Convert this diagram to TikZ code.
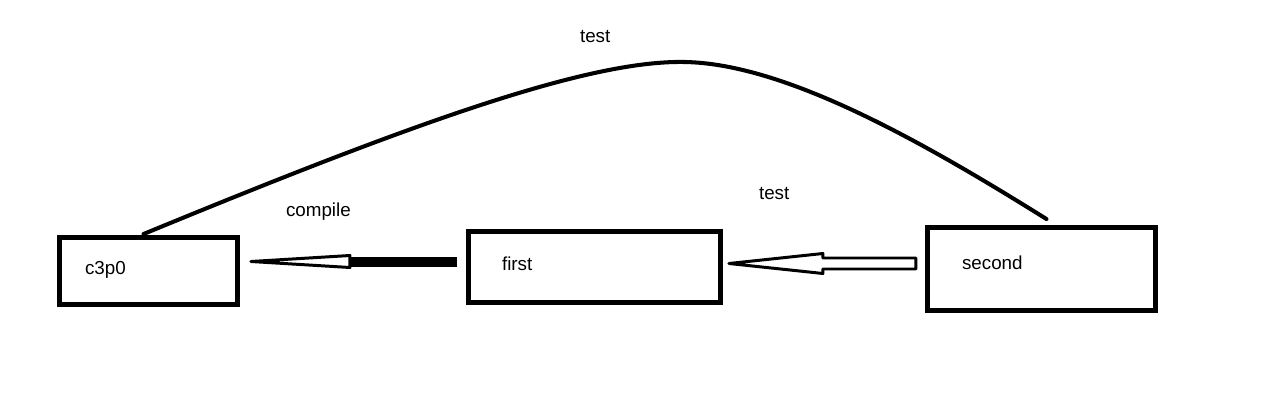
\documentclass[tikz,border=0pt]{standalone}
\usepackage{fontspec}
\setmainfont{Liberation Sans}
\usetikzlibrary{calc, positioning}

\begin{document}
\begin{tikzpicture} [x = 0.02cm, y = -0.02cm, line width = 2.3pt,
  box/.style = {draw, rectangle, inner sep = 0pt, line width = 2.8pt},
  lbl/.style = {anchor = base west, inner sep = 0pt, font = \fontsize{10.7}{12}\selectfont},
  hollow/.style = {line width = 1.7pt, line join = round, fill = white}]

\useasboundingbox (0,0) rectangle (1283,412);

\node [box, minimum width = 3.56cm, minimum height = 1.34cm] (c3p0) at (148.5,271) {};
\node [box, minimum width = 5.04cm, minimum height = 1.42cm] (first) at (594.5,267) {};
\node [box, minimum width = 4.56cm, minimum height = 1.66cm] (second) at (1041.5,269) {};

\node [lbl] (c3p0txt) at (83,274) {c3p0};
\node [lbl] (firsttxt) at (500,270) {first};
\node [lbl] (secondtxt) at (960,269) {second};

\node [lbl] (compile) at (284,216) {compile};
\node [lbl] (testmid) at (757,199) {test};
\node [lbl] (testtop) at (578,43) {test};

% the long curve from c3p0 over to second
\coordinate (cstart) at ($(c3p0.north)+(-5,-1)$);
\coordinate (cend) at ($(second.north)+(5,-6)$);
\draw [line cap = round] (cstart) .. controls (420,120) and (590,60) .. (685,62)
  .. controls (785,64) and (920,140) .. (cend);

% first -> c3p0
\coordinate (a1tail) at ($(first.west)+(-9,-5.5)$);
\coordinate (a1tip) at ($(c3p0.east)+(11,-9.5)$);
\coordinate (a1base) at ($(a1tip)+(99,0)$);
\draw [line width = 0.2cm] (a1tail) -- (a1base);
\draw [hollow] (a1tip) -- ($(a1base)+(0,-6)$) -- ($(a1base)+(0,6)$) -- cycle;

% second -> first
\coordinate (a2tip) at ($(first.east)+(6,-3.5)$);
\draw [hollow] (a2tip) -- ++(94,-10) -- ++(0,4.5) -- ++(93,0) -- ++(0,11)
  -- ++(-93,0) -- ++(0,4.5) -- cycle;

\end{tikzpicture}
\end{document}
